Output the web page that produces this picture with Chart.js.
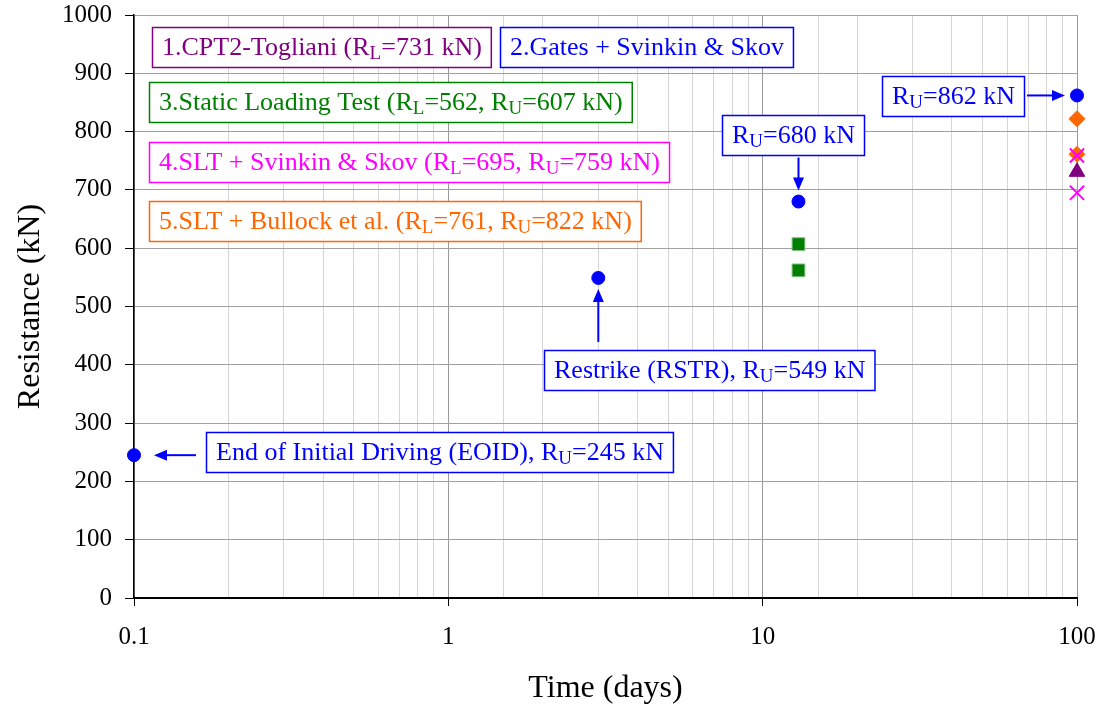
<!DOCTYPE html>
<html><head><meta charset="utf-8">
<script src="https://cdn.jsdelivr.net/npm/chart.js@4.4.1/dist/chart.umd.min.js"></script>
<style>html,body{margin:0;padding:0;background:#fff;overflow:hidden}#wrap{width:1101px;height:715px}</style>
</head><body><div id="wrap"><canvas id="c" width="1101" height="715"></canvas></div>
<script>
const FONT = '"Liberation Serif","Times New Roman",serif';

// ---- data ----
const measuredTimes = [0.1, 3, 13, 100];
const measuredRes   = [245, 549, 680, 862];
const sltTimes      = [13, 13];
const sltRes        = [562, 607];
const svinkinTimes  = [100, 100];
const svinkinRes    = [695, 759];
const bullockTimes  = [100, 100];
const bullockRes    = [761, 822];
const cptTimes      = [100];
const cptRes        = [731];
const xTickLabels   = [0.1, 1, 10, 100];
const yTickStep     = 100;

const pts = (xs, ys) => xs.map((x, i) => ({x, y: ys[i]}));

// ---- annotation text boxes (layout) ----
const BLUE = '#0000ff', GREEN = '#008000', MAG = '#ff00ff', ORANGE = '#ff6600', PURPLE = '#800080';
const boxes = [
  {left: 152, cy: 47, color: PURPLE, parts: [['1.CPT2-Togliani (R'], ['L', 1], ['=731 kN)']]},
  {left: 500, cy: 47, color: BLUE, parts: [['2.Gates + Svinkin & Skov']]},
  {left: 149, cy: 102, color: GREEN, parts: [['3.Static Loading Test (R'], ['L', 1], ['=562, R'], ['U', 1], ['=607 kN)']]},
  {left: 149, cy: 162, color: MAG, parts: [['4.SLT + Svinkin & Skov (R'], ['L', 1], ['=695, R'], ['U', 1], ['=759 kN)']]},
  {left: 149, cy: 221, color: ORANGE, parts: [['5.SLT + Bullock et al. (R'], ['L', 1], ['=761, R'], ['U', 1], ['=822 kN)']]},
  {left: 206, cy: 452, color: BLUE, parts: [['End of Initial Driving (EOID), R'], ['U', 1], ['=245 kN']]},
  {left: 544, cy: 370, color: BLUE, parts: [['Restrike (RSTR), R'], ['U', 1], ['=549 kN']]},
  {left: 722, cy: 135, color: BLUE, parts: [['R'], ['U', 1], ['=680 kN']]},
  {left: 882, cy: 96, color: BLUE, parts: [['R'], ['U', 1], ['=862 kN']]}
];
// arrows pointing at data points (target read through the scales)
const arrows = [
  {x: 0.1, y: 245, from: 'right', gap: 20, len: 42},
  {x: 3,   y: 549, from: 'below', gap: 11, len: 53},
  {x: 13,  y: 680, from: 'above', gap: 11, len: 33},
  {x: 100, y: 862, from: 'left',  gap: 12, len: 38}
];

const MAIN = 26, SUB = 19;
function drawParts(ctx, parts, x, y) {
  let cx = x;
  parts.forEach(([t, sub]) => {
    ctx.font = (sub ? SUB : MAIN) + 'px ' + FONT;
    ctx.fillText(t, cx, sub ? y + 6 : y);
    cx += ctx.measureText(t).width;
  });
  return cx - x;
}
function partsWidth(ctx, parts) {
  let w = 0;
  parts.forEach(([t, sub]) => { ctx.font = (sub ? SUB : MAIN) + 'px ' + FONT; w += ctx.measureText(t).width; });
  return w;
}

const annotPlugin = {
  id: 'annot',
  afterDatasetsDraw(chart) {
    const ctx = chart.ctx, xs = chart.scales.x, ys = chart.scales.y;
    ctx.save();
    boxes.forEach(b => {
      const w = partsWidth(ctx, b.parts) + 19, h = 40;
      const top = Math.round(b.cy - h / 2);
      ctx.fillStyle = '#fff';
      ctx.fillRect(b.left, top, w, h);
      ctx.strokeStyle = b.color; ctx.lineWidth = 1.5;
      ctx.strokeRect(b.left + 0.5, top + 0.5, w, h);
      ctx.fillStyle = b.color; ctx.textBaseline = 'middle'; ctx.textAlign = 'left';
      drawParts(ctx, b.parts, b.left + 10, b.cy + 1);
    });
    ctx.strokeStyle = BLUE; ctx.fillStyle = BLUE; ctx.lineWidth = 2;
    arrows.forEach(a => {
      const px = xs.getPixelForValue(a.x), py = ys.getPixelForValue(a.y);
      let dx = 0, dy = 0;
      if (a.from === 'right') dx = 1; else if (a.from === 'left') dx = -1;
      else if (a.from === 'below') dy = 1; else dy = -1;
      const tipX = px + dx * a.gap, tipY = py + dy * a.gap;
      const tailX = px + dx * (a.gap + a.len), tailY = py + dy * (a.gap + a.len);
      const hl = 13, hw = 5.5;
      ctx.beginPath();
      ctx.moveTo(tailX, tailY); ctx.lineTo(tipX + dx * hl * 0.8, tipY + dy * hl * 0.8); ctx.stroke();
      ctx.beginPath();
      ctx.moveTo(tipX, tipY);
      ctx.lineTo(tipX + dx * hl - dy * hw, tipY + dy * hl + dx * hw);
      ctx.lineTo(tipX + dx * hl + dy * hw, tipY + dy * hl - dx * hw);
      ctx.closePath(); ctx.fill();
    });
    ctx.restore();
  }
};

const isDecade = v => Math.abs(Math.log10(v) - Math.round(Math.log10(v))) < 1e-6;

new Chart(document.getElementById('c'), {
  type: 'scatter',
  data: {
    datasets: [
      {label: 'Measured', data: pts(measuredTimes, measuredRes), pointStyle: 'circle', pointRadius: 6.5,
       backgroundColor: BLUE, borderColor: BLUE, borderWidth: 1, clip: false},
      {label: 'SLT + Svinkin & Skov', data: pts(svinkinTimes, svinkinRes), pointStyle: 'crossRot', pointRadius: 10,
       backgroundColor: MAG, borderColor: MAG, borderWidth: 2, clip: false},
      {label: 'CPT2-Togliani', data: pts(cptTimes, cptRes), pointStyle: 'triangle', pointRadius: 9,
       backgroundColor: PURPLE, borderColor: PURPLE, borderWidth: 1, clip: false},
      {label: 'SLT + Bullock et al.', data: pts(bullockTimes, bullockRes), pointStyle: 'rectRot', pointRadius: 8,
       backgroundColor: ORANGE, borderColor: ORANGE, borderWidth: 1, clip: false},
      {label: 'Static Loading Test', data: pts(sltTimes, sltRes), pointStyle: 'rect', pointRadius: 9,
       backgroundColor: GREEN, borderColor: '#7fbf7f', borderWidth: 1, clip: false}
    ]
  },
  options: {
    responsive: false, animation: false, devicePixelRatio: 1,
    layout: {padding: {top: 15, right: 24, left: 0, bottom: 0}},
    plugins: {legend: {display: false}, tooltip: {enabled: false}},
    scales: {
      x: {
        type: 'logarithmic', min: xTickLabels[0], max: xTickLabels[xTickLabels.length - 1],
        afterFit: s => { s.height = 117; s.paddingLeft = 0; s.paddingRight = 0; },
        grid: {
          color: c => (c.tick && isDecade(c.tick.value)) ? '#9a9a9a' : '#d6d6d6',
          tickColor: c => (c.tick && isDecade(c.tick.value)) ? '#000' : 'rgba(0,0,0,0)',
          tickLength: 8, lineWidth: 1
        },
        border: {color: '#000', width: 2},
        ticks: {
          autoSkip: false, maxRotation: 0, padding: 16, color: '#000',
          font: {family: FONT, size: 25},
          callback: v => xTickLabels.includes(Number(v)) ? String(Number(v)) : ''
        },
        title: {display: true, text: 'Time (days)', color: '#000', font: {family: FONT, size: 32},
                padding: {top: 0, bottom: 7}}
      },
      y: {
        min: 0, max: 1000,
        afterFit: s => { s.width = 134; s.paddingTop = 0; s.paddingBottom = 0; },
        grid: {color: '#a0a0a0', tickColor: '#000', tickLength: 9, lineWidth: 1},
        border: {color: '#000', width: 1.5},
        ticks: {stepSize: yTickStep, padding: 13, color: '#000', font: {family: FONT, size: 25},
                callback: v => String(v)},
        title: {display: true, text: 'Resistance (kN)', color: '#000', font: {family: FONT, size: 32},
                padding: {top: 11, bottom: 0}}
      }
    }
  },
  plugins: [annotPlugin]
});
</script></body></html>
